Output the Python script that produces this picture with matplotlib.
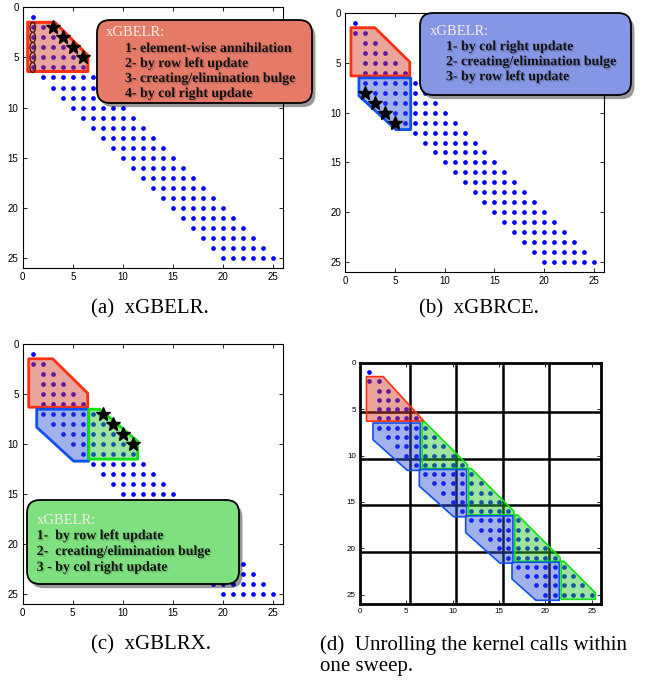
import numpy as np
import matplotlib
matplotlib.use('Agg')
import matplotlib.pyplot as plt
import matplotlib.patches as mpatches
import matplotlib.patheffects as pe

W, H = 657, 681
plt.rcParams['font.family'] = 'Liberation Sans'

# Band matrix sparsity: row index, first and last non-zero column per row
rows = list(range(1, 26))
first_col_a = [1, 1, 1, 1, 1, 1, 2, 3, 4, 5, 6, 7, 8, 9, 10, 11, 12, 13, 14, 15, 16, 17, 18, 19, 20]
first_col = [1, 1, 2, 2, 2, 2, 2, 3, 4, 5, 6, 7, 8, 9, 10, 11, 12, 13, 14, 15, 16, 17, 18, 19, 20]
last_col = rows

# Bulge elements (stars) per panel: (cols, rows)
star_a = ([3, 4, 5, 6], [2, 3, 4, 5])
star_b = ([2, 3, 4, 5], [8, 9, 10, 11])
star_c = ([8, 9, 10, 11], [7, 8, 9, 10])
# Annihilated column in (a)
annih_cols = [1, 1, 1, 1, 1]
annih_rows = [2, 3, 4, 5, 6]

# Highlighted regions
red_a = [(0.5, 1.5), (3.2, 1.5), (6.5, 4.8), (6.5, 6.4), (0.5, 6.4)]
red_bc = [(0.6, 1.45), (3.0, 1.45), (6.5, 4.9), (6.5, 6.3), (0.6, 6.3)]
blue_bc = [(1.4, 6.5), (6.6, 6.5), (6.6, 11.7), (5.1, 11.7), (1.4, 8.3)]
green_c = [(6.6, 6.5), (7.7, 6.5), (11.5, 9.7), (11.5, 11.5), (6.6, 11.5)]
red_d = [(0.7, 1.5), (2.5, 1.5), (6.9, 6.3), (0.7, 6.3)]
block_offsets = [0, 5, 10, 15]
grid_d = [5.4, 10.4, 15.4, 20.4]

box_titles = ['xGBELR:', 'xGBELR:', 'xGBELR:']
box_a = ['1- element-wise annihilation', '2- by row left update',
         '3- creating/elimination bulge', '4- by col right update']
box_b = ['1- by col right update', '2- creating/elimination bulge', '3- by row left update']
box_c = ['1-  by row left update', '2-  creating/elimination bulge', '3 - by col right update']
captions = ['(a)  xGBELR.', '(b)  xGBRCE.', '(c)  xGBLRX.',
            '(d)  Unrolling the kernel calls within\none sweep.']

RED = ('#ff3010', (0.81, 0.22, 0.14, 0.45))
BLUE = ('#1050f0', (0.19, 0.32, 0.82, 0.45))
GREEN = ('#10e010', (0.16, 0.76, 0.16, 0.45))


def ax_rect(l, t, r, b):
    return [l / W, 1 - b / H, (r - l) / W, (b - t) / H]


def setup(ax, fs=7, lw=0.8):
    ax.set_xlim(0, 26)
    ax.set_ylim(26, 0)
    t = [0, 5, 10, 15, 20, 25]
    ax.set_xticks(t)
    ax.set_yticks(t)
    ax.tick_params(direction='in', top=True, right=True, length=3, width=0.6,
                   labelsize=fs, pad=3)
    for s in ax.spines.values():
        s.set_linewidth(lw)


def dots(ax, first):
    xs, ys = [], []
    for r, f, l in zip(rows, first, last_col):
        for c in range(f, l + 1):
            xs.append(c)
            ys.append(r)
    ax.plot(xs, ys, 'o', color='#0000ff', ms=3.4, mec='none', zorder=2)


def region(ax, verts, col, lw=1.5):
    ax.add_patch(mpatches.Polygon(verts, closed=True, facecolor=col[1],
                                  edgecolor=col[0], lw=lw, joinstyle='round', zorder=3))


def stars(ax, s):
    ax.plot(s[0], s[1], '*', color='black', ms=10, mec='black', zorder=5)


def blue_block(o, ylim=25.6):
    yb = min(11.6 + o, ylim)
    top_l, diag_top = (1.4 + o, 8.3 + o), (5.1 + o, 11.6 + o)
    frac = (yb - top_l[1]) / (diag_top[1] - top_l[1])
    xb = top_l[0] + frac * (diag_top[0] - top_l[0])
    return [(1.4 + o, 6.5 + o), (6.5 + o, 6.5 + o), (6.5 + o, yb), (xb, yb), top_l]


def green_block(o, xlim=25.4, ylim=25.5):
    x0, y0 = 7.0 + o, 6.4 + o
    xr = min(11.6 + o, xlim)
    yd = y0 + (xr - x0)
    yb = min(11.4 + o, ylim)
    return [(6.7 + o, y0), (x0, y0), (xr, yd), (xr, yb), (6.7 + o, yb)]


fig = plt.figure(figsize=(W / 100, H / 100), dpi=100)

# (a)
ax = fig.add_axes(ax_rect(22.7, 7.3, 283.3, 268))
setup(ax)
dots(ax, first_col_a)
region(ax, red_a, RED, lw=2.2)
for c, r in zip(annih_cols, annih_rows):
    ax.add_patch(mpatches.Ellipse((c, r), 0.55, 1.0, facecolor='none',
                                  edgecolor='#4a1a10', lw=1.0, zorder=4))
stars(ax, star_a)

# (b)
ax = fig.add_axes(ax_rect(345, 13.3, 604, 271.7))
setup(ax)
dots(ax, first_col)
region(ax, red_bc, RED, lw=2)
region(ax, blue_bc, BLUE, lw=2)
stars(ax, star_b)

# (c)
ax = fig.add_axes(ax_rect(22.7, 344.3, 282.7, 604))
setup(ax)
dots(ax, first_col)
region(ax, red_bc, RED, lw=2)
region(ax, blue_bc, BLUE, lw=2)
region(ax, green_c, GREEN, lw=2)
stars(ax, star_c)

# (d)
ax = fig.add_axes(ax_rect(360, 362.7, 601, 604))
setup(ax, fs=5.8, lw=2)
for g in grid_d:
    ax.axvline(g, color='black', lw=1.8, zorder=1)
    ax.axhline(g - 0.05, color='black', lw=1.8, zorder=1)
dots(ax, first_col)
region(ax, red_d, RED, lw=1.2)
for o in block_offsets:
    region(ax, blue_block(o), BLUE, lw=1.2)
    region(ax, green_block(o), GREEN, lw=1.2)

# overlay in pixel coordinates for boxes and captions
ov = fig.add_axes([0, 0, 1, 1])
ov.set_xlim(0, W)
ov.set_ylim(H, 0)
ov.axis('off')


def textbox(x0, y0, x1, y1, fc, title, items, tx, ty, ix, iy, step):
    p = mpatches.FancyBboxPatch((x0, y0), x1 - x0, y1 - y0,
                                boxstyle='round,pad=0,rounding_size=13',
                                facecolor=fc, edgecolor='black', lw=1.3, zorder=10)
    p.set_path_effects([pe.withSimplePatchShadow(offset=(2.5, -3), shadow_rgbFace='black', alpha=0.4)])
    ov.add_patch(p)
    ov.text(tx, ty, title, family='Liberation Serif', fontsize=10.5, color='#f8ece8',
            va='center', ha='left', zorder=11)
    for i, s in enumerate(items):
        ov.text(ix, iy + i * step, s, family='Liberation Serif', fontsize=10,
                fontweight='bold', color='#111111', va='center', ha='left', zorder=11,
                path_effects=[pe.SimplePatchShadow(offset=(1, -1), shadow_rgbFace='black', alpha=0.18),
                              pe.Normal()])


textbox(97, 20, 312, 103, '#e57a69', box_titles[0], box_a, 106, 32.7, 125, 48.5, 15)
textbox(420, 13, 631, 95, '#8496e4', box_titles[1], box_b, 430, 31.7, 446, 46.7, 15)
textbox(27, 500, 239, 584, '#7fe07f', box_titles[2], box_c, 36.7, 520.7, 36.7, 535.7, 15.8)

cap = dict(family='Liberation Serif', fontsize=15, color='black', va='center')
ov.text(150, 309, captions[0], ha='center', **cap)
ov.text(479, 309, captions[1], ha='center', **cap)
ov.text(151, 645, captions[2], ha='center', **cap)
for i, line in enumerate(captions[3].split('\n')):
    ov.text(320, 645 + 22 * i, line, ha='left', **cap)

fig.savefig('out.png', dpi=100)
